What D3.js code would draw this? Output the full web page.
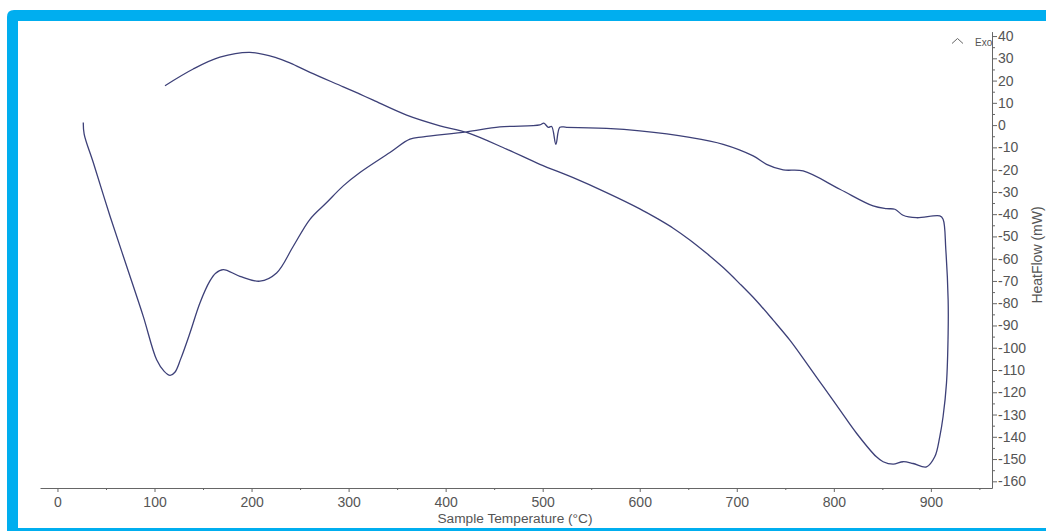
<!DOCTYPE html>
<html>
<head>
<meta charset="utf-8">
<script src="https://cdn.jsdelivr.net/npm/d3@7"></script>
<style>
  html, body { margin: 0; padding: 0; background: #fff; }
  svg { display: block; }
</style>
</head>
<body>
<svg id="chart" width="1046" height="531"></svg>
<script>
// DSC run: heating up to ~918 °C then cooling back, traced as one loop
const tempC = [
  26.6, 27.5, 36.9, 54.1, 71.3, 88.4, 102.2, 110, 116, 121, 127, 136.5, 146.8, 157.1,
  163, 170.8, 188, 208.6, 225.8, 243, 260.2, 277.4, 294.5, 311.7, 342.6, 363.2, 376.9, 421.6,
  455.9, 497.1, 501.2, 505.7, 509.2, 513.6, 517.7, 524.6, 565.8, 600.1, 651.6, 686, 716.9,
  730.7, 747.8, 768.4, 806.2, 840.5, 854.3, 862.9, 871.4, 885.2, 909.2, 912.6, 915.4, 917.8,
  917.8, 916.1, 912.6, 909.2, 904, 895.5, 881.7, 871.4, 861.1, 850.8, 843.9, 823.4, 806.2,
  789, 771.9, 754.7, 737.5, 720.4, 703.2, 686, 668.9, 651.6, 634.5, 617.4, 600.1, 565.8,
  531.4, 497.1, 462.8, 421.6, 394.1, 359.8, 325.4, 311.7, 294.5, 260.2, 240, 225.8, 198.3, 167.4,
  139.9, 110.8
];
const heatFlow = [
  1.2, -4, -16.8, -40.8, -63.4, -85.9, -105.4, -110.6, -112.4, -111, -105, -93.4, -79.9, -70,
  -66.5, -64.9, -67.9, -70.1, -66.4, -54.4, -42.3, -34.8, -27.3, -21.3, -12.3, -6.3, -5.3, -3.0,
  -0.8, 0.1, 0.9, -1.0, -0.6, -8.6, -1.0, -1.0, -1.5, -2.6, -5.5, -8.6, -13.8,
  -17.6, -20.1, -20.6, -28.8, -36.3, -37.5, -37.8, -40.5, -41.6, -40.8, -42.3, -55.9, -78.4,
  -93.4, -115.9, -130.9, -139.9, -149, -153.5, -152, -151.2, -152.3, -151.2, -149, -138.4, -127.9,
  -117.4, -106.9, -96.6, -87.6, -79, -71.3, -64, -57.6, -51.6, -46.3, -41.8, -37.6, -30.3,
  -23.6, -17.6, -10.8, -3.3, -0.3, 4.5, 11.2, 13.9, 17.2, 23.7, 27.8, 30.2, 32.7, 30.5,
  25.2, 17.7
];

const xTicks = [0, 100, 200, 300, 400, 500, 600, 700, 800, 900];
const xMinorTicks = [50, 150, 250, 350, 450, 550, 650, 750, 850, 950];
const yTicks = [40, 30, 20, 10, 0, -10, -20, -30, -40, -50, -60, -70, -80, -90, -100,
  -110, -120, -130, -140, -150, -160];
const yMinorTicks = [35, 25, 15, 5, -5, -15, -25, -35, -45, -55, -65, -75, -85, -95, -105,
  -115, -125, -135, -145, -155];

const xLabel = "Sample Temperature (°C)";
const yLabel = "HeatFlow (mW)";

const svg = d3.select("#chart");
const BORDER = "#00aeef";
const INK = "#555";
const tickFont = "'Liberation Sans Narrow', 'Arial Narrow', sans-serif";
const titleFont = "'Liberation Sans', Arial, sans-serif";

// cyan frame (top, left, bottom)
svg.append("path")
  .attr("d", "M7,531 L7,17 Q7,10 14,10 L1046,10 L1046,21 L18,21 L18,531 Z")
  .attr("fill", BORDER);
svg.append("rect")
  .attr("x", 7).attr("y", 528).attr("width", 1039).attr("height", 3)
  .attr("fill", BORDER);

const x = d3.scaleLinear().domain([-18, 963]).range([40, 992]);
const y = d3.scaleLinear().domain([-163, 42]).range([488, 31.6]);

// x axis
const gx = svg.append("g").attr("transform", `translate(0,${y.range()[0]})`);
gx.call(d3.axisBottom(x).tickValues(xTicks).tickSize(4).tickSizeOuter(0).tickPadding(5)
  .tickFormat(d => String(d)));
gx.append("g").call(d3.axisBottom(x).tickValues(xMinorTicks).tickSize(2).tickFormat(""))
  .select(".domain").remove();

// y axis on the right
const gy = svg.append("g").attr("transform", `translate(${x.range()[1]},0)`);
gy.call(d3.axisRight(y).tickValues(yTicks).tickSize(5).tickSizeOuter(0).tickPadding(1)
  .tickFormat(d => String(d)));
gy.append("g").call(d3.axisRight(y).tickValues(yMinorTicks).tickSize(3).tickFormat(""))
  .select(".domain").remove();

svg.selectAll(".domain, .tick line").attr("stroke", "#666").attr("stroke-width", 1);
svg.selectAll(".tick text")
  .attr("fill", INK)
  .style("font-family", tickFont)
  .style("font-size", "14px");

// axis titles
svg.append("text")
  .attr("x", 515).attr("y", 523)
  .attr("text-anchor", "middle")
  .attr("fill", INK)
  .style("font-family", titleFont)
  .style("font-size", "13.7px")
  .text(xLabel);

svg.append("text")
  .attr("transform", "translate(1042,255) rotate(-90)")
  .attr("text-anchor", "middle")
  .attr("fill", INK)
  .style("font-family", titleFont)
  .style("font-size", "14px")
  .text(yLabel);

// exo marker
svg.append("path")
  .attr("d", "M952,43.5 L957.5,38.5 L963,43.5")
  .attr("fill", "none")
  .attr("stroke", "#666")
  .attr("stroke-width", 1);
svg.append("text")
  .attr("x", 975).attr("y", 46)
  .attr("fill", INK)
  .style("font-family", titleFont)
  .style("font-size", "10px")
  .text("Exo");

// the trace
const pts = tempC.map((t, i) => [t, heatFlow[i]]);
const line = d3.line()
  .x(d => x(d[0]))
  .y(d => y(d[1]))
  .curve(d3.curveCatmullRom.alpha(0.5));

svg.append("path")
  .datum(pts)
  .attr("d", line)
  .attr("fill", "none")
  .attr("stroke", "#3d4078")
  .attr("stroke-width", 1.3)
  .attr("stroke-linejoin", "round");
</script>
</body>
</html>
